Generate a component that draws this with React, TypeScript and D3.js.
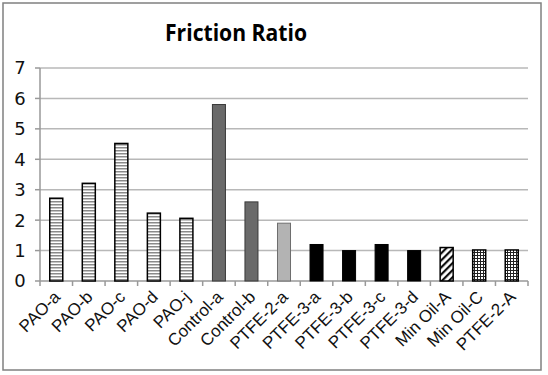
import React, { useEffect, useRef } from 'react';
import * as d3 from 'd3';

const categories = [
  'PAO-a', 'PAO-b', 'PAO-c', 'PAO-d', 'PAO-j',
  'Control-a', 'Control-b', 'PTFE-2-a',
  'PTFE-3-a', 'PTFE-3-b', 'PTFE-3-c', 'PTFE-3-d',
  'Min Oil-A', 'Min Oil-C', 'PTFE-2-A',
];
const ratios = [2.72, 3.21, 4.52, 2.23, 2.06, 5.8, 2.6, 1.9, 1.2, 1.0, 1.2, 1.0, 1.1, 1.02, 1.02];
const fillKinds = [
  'hstripe', 'hstripe', 'hstripe', 'hstripe', 'hstripe',
  'dark', 'dark', 'light',
  'black', 'black', 'black', 'black',
  'diag', 'grid', 'grid',
];
const yTicks = [0, 1, 2, 3, 4, 5, 6, 7];

const W = 548;
const H = 375;
const left = 40;
const right = 528;
const top = 68;
const bottom = 281;

const App = () => {
  const ref = useRef<SVGSVGElement>(null);

  useEffect(() => {
    const svg = d3.select(ref.current);
    svg.selectAll('*').remove();

    const defs = svg.append('defs');
    const hs = defs.append('pattern').attr('id', 'hstripe').attr('patternUnits', 'userSpaceOnUse')
      .attr('width', 4).attr('height', 3);
    hs.append('rect').attr('width', 4).attr('height', 3).attr('fill', '#fff');
    hs.append('rect').attr('width', 4).attr('height', 1.5).attr('fill', '#8a8a8a');

    const dg = defs.append('pattern').attr('id', 'diag').attr('patternUnits', 'userSpaceOnUse')
      .attr('width', 5).attr('height', 5).attr('patternTransform', 'rotate(45)');
    dg.append('rect').attr('width', 5).attr('height', 5).attr('fill', '#fff');
    dg.append('rect').attr('width', 2.2).attr('height', 5).attr('fill', '#111');

    const gr = defs.append('pattern').attr('id', 'grid').attr('patternUnits', 'userSpaceOnUse')
      .attr('width', 3).attr('height', 3);
    gr.append('rect').attr('width', 3).attr('height', 3).attr('fill', '#fff');
    gr.append('rect').attr('width', 3).attr('height', 1).attr('fill', '#222');
    gr.append('rect').attr('width', 1).attr('height', 3).attr('fill', '#222');

    // chart frame
    svg.append('rect').attr('x', 3).attr('y', 3).attr('width', 538).attr('height', 367)
      .attr('fill', '#fff').attr('stroke', '#808080').attr('stroke-width', 1.5);

    const x = d3.scaleBand().domain(categories).range([left, right]).paddingInner(0.6).paddingOuter(0.3);
    const y = d3.scaleLinear().domain([0, 7]).range([bottom, top]);

    // gridlines
    svg.append('g').selectAll('line').data(yTicks.filter((t) => t > 0)).join('line')
      .attr('x1', left).attr('x2', right)
      .attr('y1', (d) => y(d)).attr('y2', (d) => y(d))
      .attr('stroke', '#b8b8b8').attr('stroke-width', 1.5);

    // y axis
    const ya = svg.append('g');
    ya.append('line').attr('x1', left).attr('x2', left).attr('y1', top).attr('y2', bottom)
      .attr('stroke', '#999').attr('stroke-width', 1.5);
    ya.selectAll('line.t').data(yTicks).join('line').attr('class', 't')
      .attr('x1', left - 5).attr('x2', left).attr('y1', (d) => y(d)).attr('y2', (d) => y(d))
      .attr('stroke', '#999').attr('stroke-width', 1.5);
    ya.selectAll('text').data(yTicks).join('text')
      .attr('x', 20).attr('y', (d) => y(d)).attr('dy', '0.36em')
      .attr('text-anchor', 'middle').attr('font-family', 'DejaVu Sans, Verdana, sans-serif')
      .attr('font-size', 18).attr('fill', '#111').text((d) => d);

    // x axis
    const xa = svg.append('g');
    xa.append('line').attr('x1', left).attr('x2', right).attr('y1', bottom).attr('y2', bottom)
      .attr('stroke', '#999').attr('stroke-width', 1.5);
    xa.selectAll('line.t').data(d3.range(categories.length + 1)).join('line').attr('class', 't')
      .attr('x1', (i) => left + i * x.step())
      .attr('x2', (i) => left + i * x.step())
      .attr('y1', bottom).attr('y2', bottom + 5)
      .attr('stroke', '#999').attr('stroke-width', 1.5);
    xa.selectAll('text').data(categories).join('text')
      .attr('transform', (d) => `translate(${(x(d) ?? 0) + x.bandwidth() / 2 + 5},${bottom + 17}) rotate(-45)`)
      .attr('text-anchor', 'end').attr('font-family', 'Liberation Sans, Arial, sans-serif')
      .attr('font-size', 17).attr('fill', '#111').text((d) => d);

    // bars
    const styles: Record<string, { fill: string; stroke: string; sw: number }> = {
      hstripe: { fill: 'url(#hstripe)', stroke: '#000', sw: 1.5 },
      dark: { fill: '#6a6a6a', stroke: '#3a3a3a', sw: 1 },
      light: { fill: '#b3b3b3', stroke: '#6e6e6e', sw: 1 },
      black: { fill: '#000', stroke: '#000', sw: 1 },
      diag: { fill: 'url(#diag)', stroke: '#000', sw: 1.5 },
      grid: { fill: 'url(#grid)', stroke: '#000', sw: 1.5 },
    };
    svg.append('g').selectAll('rect').data(categories).join('rect')
      .attr('x', (d) => x(d) ?? 0)
      .attr('y', (d, i) => y(ratios[i]))
      .attr('width', x.bandwidth())
      .attr('height', (d, i) => bottom - y(ratios[i]))
      .attr('fill', (d, i) => styles[fillKinds[i]].fill)
      .attr('stroke', (d, i) => styles[fillKinds[i]].stroke)
      .attr('stroke-width', (d, i) => styles[fillKinds[i]].sw);

    svg.append('text').attr('x', 236).attr('y', 41).attr('text-anchor', 'middle')
      .attr('font-family', 'Open Sans, sans-serif').attr('font-weight', 'bold')
      .attr('font-size', 23).attr('textLength', 142).attr('lengthAdjust', 'spacingAndGlyphs')
      .attr('fill', '#000').text('Friction Ratio');
  }, []);

  return (
    <svg ref={ref} width={W} height={H} style={{ position: 'absolute', left: 0, top: 0, background: '#fff' }} />
  );
};

export default App;
